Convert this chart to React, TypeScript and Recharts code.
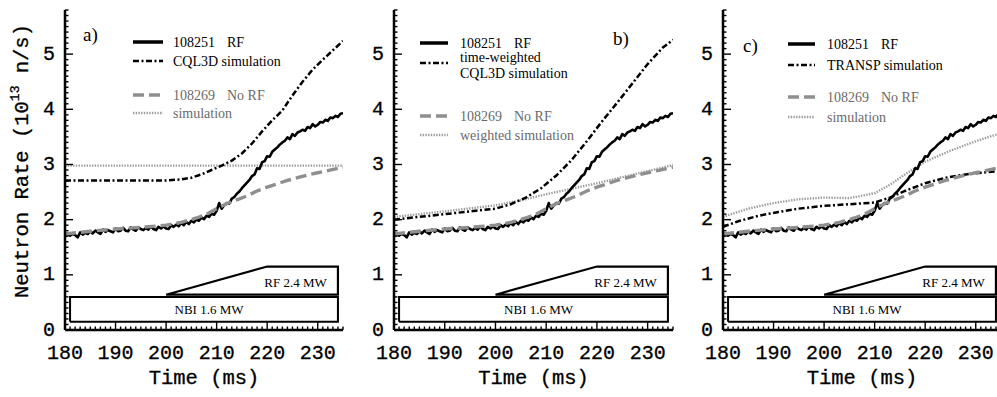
import React from 'react';
import { LineChart, Line, XAxis, YAxis, ReferenceArea, Legend } from 'recharts';

// ---------------- data ----------------
const xMajorTicks = [180, 190, 200, 210, 220, 230];
const yMajorTicks = [0, 1, 2, 3, 4, 5];
const xDomain = [180, 235];
const yDomain = [0, 5.8];

// 108251 RF (measured, noisy)
const rfTime = [
  180, 180.5, 181, 181.5, 182, 182.5, 183, 183.5, 184, 184.5,
  185, 185.5, 186, 186.5, 187, 187.5, 188, 188.5, 189, 189.5,
  190, 190.5, 191, 191.5, 192, 192.5, 193, 193.5, 194, 194.5,
  195, 195.5, 196, 196.5, 197, 197.5, 198, 198.5, 199, 199.5,
  200, 200.5, 201, 201.5, 202, 202.5, 203, 203.5, 204, 204.5,
  205, 205.5, 206, 206.5, 207, 207.5, 208, 208.5, 209, 209.5,
  210, 210.5, 211, 211.5, 212, 212.5, 213, 213.5, 214, 214.5,
  215, 215.5, 216, 216.5, 217, 217.5, 218, 218.5, 219, 219.5,
  220, 220.5, 221, 221.5, 222, 222.5, 223, 223.5, 224, 224.5,
  225, 225.5, 226, 226.5, 227, 227.5, 228, 228.5, 229, 229.5,
  230, 230.5, 231, 231.5, 232, 232.5, 233, 233.5, 234, 234.5,
  235,
];
const rfRate = [
  1.69, 1.75, 1.71, 1.74, 1.72, 1.68, 1.77, 1.73, 1.76, 1.74,
  1.79, 1.75, 1.80, 1.77, 1.74, 1.82, 1.78, 1.81, 1.79, 1.77,
  1.84, 1.79, 1.80, 1.85, 1.80, 1.79, 1.86, 1.82, 1.80, 1.86,
  1.83, 1.81, 1.85, 1.82, 1.88, 1.83, 1.81, 1.87, 1.84, 1.88,
  1.84, 1.83, 1.90, 1.87, 1.91, 1.88, 1.94, 1.90, 1.96, 1.92,
  1.98, 1.95, 2.00, 1.98, 2.04, 2.01, 2.07, 2.05, 2.11, 2.09,
  2.16, 2.30, 2.20, 2.26, 2.30, 2.29, 2.38, 2.41, 2.47, 2.51,
  2.57, 2.62, 2.67, 2.72, 2.79, 2.82, 2.93, 2.92, 3.04, 3.06,
  3.15, 3.14, 3.23, 3.27, 3.31, 3.36, 3.40, 3.43, 3.49, 3.46,
  3.55, 3.52, 3.58, 3.60, 3.63, 3.61, 3.68, 3.66, 3.73, 3.69,
  3.72, 3.77, 3.76, 3.81, 3.79, 3.85, 3.84, 3.88, 3.86, 3.92,
  3.93,
];

// 108269 No RF (measured)
const noRfTime = [180, 185, 190, 195, 200, 203, 206, 208, 210, 212, 214, 216, 218, 220, 222, 224, 226, 228, 230, 232, 234, 235];
const noRfRate = [1.74, 1.79, 1.83, 1.86, 1.9, 1.95, 2.03, 2.1, 2.2, 2.29, 2.36, 2.43, 2.52, 2.59, 2.65, 2.71, 2.76, 2.81, 2.85, 2.89, 2.93, 2.95];

// a) CQL3D simulation / No RF simulation
const cqlTime = [180, 200, 203, 205, 207, 209, 211, 213, 215, 217, 219, 221, 223, 225, 227, 229, 231, 233, 235];
const cqlRate = [2.71, 2.71, 2.73, 2.76, 2.82, 2.9, 2.98, 3.07, 3.2, 3.38, 3.6, 3.8, 3.98, 4.25, 4.5, 4.72, 4.9, 5.07, 5.24];
const simATime = [180, 235];
const simARate = [2.98, 2.98];

// b) time-weighted CQL3D / weighted simulation
const cqlWTime = [180, 190, 200, 203, 206, 209, 212, 215, 218, 221, 224, 227, 230, 233, 235];
const cqlWRate = [2.0, 2.1, 2.2, 2.28, 2.4, 2.57, 2.8, 3.08, 3.42, 3.78, 4.12, 4.47, 4.82, 5.12, 5.26];
const simWTime = [180, 190, 200, 205, 210, 215, 220, 225, 230, 235];
const simWRate = [2.05, 2.15, 2.26, 2.35, 2.46, 2.56, 2.66, 2.77, 2.88, 2.99];

// c) TRANSP simulation / simulation
const transpTime = [180, 183, 187, 191, 195, 200, 205, 210, 213, 216, 220, 224, 228, 232, 235];
const transpRate = [1.87, 1.97, 2.07, 2.14, 2.2, 2.25, 2.28, 2.31, 2.4, 2.52, 2.66, 2.76, 2.82, 2.86, 2.88];
const simTTime = [180, 185, 190, 195, 200, 205, 210, 213, 216, 220, 225, 230, 235];
const simTRate = [2.05, 2.2, 2.3, 2.37, 2.4, 2.39, 2.48, 2.63, 2.82, 3.05, 3.25, 3.42, 3.57];

// heating waveforms (schematic boxes)
const nbiTime = [181, 181, 234, 234, 181];
const nbiLevel = [0.15, 0.6, 0.6, 0.15, 0.15];
const rfPowTime = [200, 220, 234, 234, 200];
const rfPowLevel = [0.64, 1.15, 1.15, 0.64, 0.64];
const nbiLabel = 'NBI 1.6 MW';
const rfLabel = 'RF 2.4 MW';

const panelTags = ['a)', 'b)', 'c)'];
const xTitle = 'Time (ms)';

// ---------------- helpers ----------------
const pts = (ts: number[], vs: number[]) => ts.map((t, i) => ({ t, v: vs[i] }));

const xAllTicks: number[] = [];
for (let t = xDomain[0]; t <= xDomain[1]; t += 1) xAllTicks.push(t);
const yAllTicks: number[] = [];
for (let i = 0; i <= 58; i += 1) yAllTicks.push(Math.round(i) / 10);

const isYMajor = (v: number) => yMajorTicks.some((m) => Math.abs(m - v) < 1e-6);
const isXMajor = (v: number) => xMajorTicks.some((m) => Math.abs(m - v) < 1e-6);

const FONT_AXIS = '"Liberation Mono", "DejaVu Sans Mono", monospace';
const FONT_SERIF = '"Liberation Serif", "DejaVu Serif", serif';
const MAJ = 8;
const MIN = 3.5;
const TW = 1.4;

const BottomTick = (p: any) => {
  const v = p.payload.value;
  const major = isXMajor(v);
  return (
    <g>
      <line x1={p.x} x2={p.x} y1={p.y} y2={p.y - (major ? MAJ : MIN)} stroke="#000" strokeWidth={TW} />
      {major && (
        <text x={p.x} y={p.y + 23} textAnchor="middle" dominantBaseline="central" fontFamily={FONT_AXIS} fontSize={20} fill="#000" stroke="#000" strokeWidth={0.3}>
          {v}
        </text>
      )}
    </g>
  );
};
const TopTick = (p: any) => {
  const major = isXMajor(p.payload.value);
  return <line x1={p.x} x2={p.x} y1={p.y} y2={p.y + (major ? MAJ : MIN)} stroke="#000" strokeWidth={TW} />;
};
const LeftTick = (p: any) => {
  const v = p.payload.value;
  const major = isYMajor(v);
  return (
    <g>
      <line x1={p.x} x2={p.x + (major ? MAJ : MIN)} y1={p.y} y2={p.y} stroke="#000" strokeWidth={TW} />
      {major && (
        <text x={p.x - 10} y={p.y} textAnchor="end" dominantBaseline="central" fontFamily={FONT_AXIS} fontSize={20} fill="#000" stroke="#000" strokeWidth={0.3}>
          {Math.round(v)}
        </text>
      )}
    </g>
  );
};
const RightTick = (p: any) => {
  const major = isYMajor(p.payload.value);
  return <line x1={p.x} x2={p.x - (major ? MAJ : MIN)} y1={p.y} y2={p.y} stroke="#000" strokeWidth={TW} />;
};

type Series = { name: string; time: number[]; rate: number[]; stroke: string; width: number; dash?: string };

const BLACK = '#000';
const GRAY_DASH = '#8f8f8f';
const GRAY_DOT = '#9c9c9c';
const DASHDOT = '6 2.5 2 2.5';
const DASHED = '11 5';
const DOTTED = '1.4 1.3';

const seriesRF: Series = { name: '108251', time: rfTime, rate: rfRate, stroke: BLACK, width: 2.6 };
const seriesNoRF: Series = { name: '108269', time: noRfTime, rate: noRfRate, stroke: GRAY_DASH, width: 3.4, dash: DASHED };

type LegendRow = { y: number; stroke: string; width: number; dash?: string; lines: string[]; lineY: number[]; suffix?: string; suffixDx?: number; color: string };

type PanelCfg = {
  left: number;
  width: number;
  yAxisWidth: number;
  sims: Series[];
  tag: { label: string; x: number; y: number };
  sample: [number, number];
  textX: number;
  rows: LegendRow[];
  yLabel?: boolean;
};

const legendRowsA: LegendRow[] = [
  { y: 42, stroke: BLACK, width: 3.5, lines: ['108251'], lineY: [42], suffix: 'RF', suffixDx: 54, color: '#000' },
  { y: 61, stroke: BLACK, width: 2.6, dash: DASHDOT, lines: ['CQL3D simulation'], lineY: [61], color: '#000' },
  { y: 95, stroke: GRAY_DASH, width: 3.6, dash: DASHED, lines: ['108269'], lineY: [95], suffix: 'No RF', suffixDx: 54, color: '#6a6a6a' },
  { y: 113, stroke: GRAY_DOT, width: 2.4, dash: DOTTED, lines: ['simulation'], lineY: [113], color: '#6a6a6a' },
];
const legendRowsB: LegendRow[] = [
  { y: 43, stroke: BLACK, width: 3.5, lines: ['108251'], lineY: [43], suffix: 'RF', suffixDx: 54, color: '#000' },
  { y: 63, stroke: BLACK, width: 2.6, dash: DASHDOT, lines: ['time-weighted', 'CQL3D simulation'], lineY: [57, 73], color: '#000' },
  { y: 116, stroke: GRAY_DASH, width: 3.6, dash: DASHED, lines: ['108269'], lineY: [116], suffix: 'No RF', suffixDx: 54, color: '#6a6a6a' },
  { y: 135, stroke: GRAY_DOT, width: 2.4, dash: DOTTED, lines: ['weighted simulation'], lineY: [135], color: '#6a6a6a' },
];
const legendRowsC: LegendRow[] = [
  { y: 44, stroke: BLACK, width: 3.5, lines: ['108251'], lineY: [44], suffix: 'RF', suffixDx: 54, color: '#000' },
  { y: 65, stroke: BLACK, width: 2.6, dash: DASHDOT, lines: ['TRANSP simulation'], lineY: [65], color: '#000' },
  { y: 97, stroke: GRAY_DASH, width: 3.6, dash: DASHED, lines: ['108269'], lineY: [97], suffix: 'No RF', suffixDx: 54, color: '#6a6a6a' },
  { y: 117, stroke: GRAY_DOT, width: 2.4, dash: DOTTED, lines: ['simulation'], lineY: [117], color: '#6a6a6a' },
];

const panels: PanelCfg[] = [
  {
    left: 0, width: 348, yAxisWidth: 65, yLabel: true,
    sims: [
      { name: 'sim', time: simATime, rate: simARate, stroke: GRAY_DOT, width: 2.4, dash: DOTTED },
      { name: 'cql', time: cqlTime, rate: cqlRate, stroke: BLACK, width: 2.5, dash: DASHDOT },
    ],
    tag: { label: panelTags[0], x: 83, y: 34 }, sample: [133, 163], textX: 173, rows: legendRowsA,
  },
  {
    left: 345, width: 333, yAxisWidth: 49,
    sims: [
      { name: 'simw', time: simWTime, rate: simWRate, stroke: GRAY_DOT, width: 2.4, dash: DOTTED },
      { name: 'cqlw', time: cqlWTime, rate: cqlWRate, stroke: BLACK, width: 2.5, dash: DASHDOT },
    ],
    tag: { label: panelTags[1], x: 268, y: 38 }, sample: [75, 103], textX: 115, rows: legendRowsB,
  },
  {
    left: 678, width: 328, yAxisWidth: 45,
    sims: [
      { name: 'simt', time: simTTime, rate: simTRate, stroke: GRAY_DOT, width: 2.4, dash: DOTTED },
      { name: 'transp', time: transpTime, rate: transpRate, stroke: BLACK, width: 2.5, dash: DASHDOT },
    ],
    tag: { label: panelTags[2], x: 65, y: 45 }, sample: [110, 137], textX: 149, rows: legendRowsC,
  },
];

const LegendLayer = ({ cfg }: { cfg: PanelCfg }) => (
  <svg width={cfg.width} height={160} style={{ display: 'block', overflow: 'visible' }}>
    <text x={cfg.tag.x} y={cfg.tag.y} dominantBaseline="central" fontFamily={FONT_SERIF} fontSize={19} fill="#000">
      {cfg.tag.label}
    </text>
    {cfg.rows.map((r, i) => (
      <g key={i}>
        <line x1={cfg.sample[0]} x2={cfg.sample[1]} y1={r.y} y2={r.y} stroke={r.stroke} strokeWidth={r.width} strokeDasharray={r.dash} />
        {r.lines.map((ln, j) => (
          <text key={j} x={cfg.textX} y={r.lineY[j]} dominantBaseline="central" fontFamily={FONT_SERIF} fontSize={14} fill={r.color}>
            {ln}
          </text>
        ))}
        {r.suffix && (
          <text x={cfg.textX + (r.suffixDx || 0)} y={r.lineY[0]} dominantBaseline="central" fontFamily={FONT_SERIF} fontSize={14} fill={r.color}>
            {r.suffix}
          </text>
        )}
      </g>
    ))}
  </svg>
);

const YLabel = () => (
  <text x={0} y={0} transform="translate(22,161) rotate(-90)" textAnchor="middle" dominantBaseline="central" fontFamily={FONT_AXIS} fontSize={20.5} fill="#000" stroke="#000" strokeWidth={0.3}>
    <tspan>Neutron Rate (10</tspan>
    <tspan dy={-7} fontSize={13}>13</tspan>
    <tspan dy={7}> n/s)</tspan>
  </text>
);

const XLabel = (p: any) => {
  const vb = p.viewBox || {};
  return (
    <text x={vb.x + vb.width / 2} y={vb.y + 48} textAnchor="middle" dominantBaseline="central" fontFamily={FONT_AXIS} fontSize={20.5} fill="#000" stroke="#000" strokeWidth={0.3}>
      {xTitle}
    </text>
  );
};

const Panel = ({ cfg }: { cfg: PanelCfg }) => {
  return (
    <LineChart width={cfg.width} height={397} margin={{ top: 10, right: 5, bottom: 0, left: 0 }}>
      <XAxis
        xAxisId="b" type="number" dataKey="t" domain={xDomain} allowDataOverflow ticks={xAllTicks} interval={0}
        height={67} tickSize={0} tickMargin={0} tickLine={false} tick={BottomTick}
        axisLine={{ stroke: '#000', strokeWidth: 2.5 }} label={{ value: xTitle, content: XLabel }}
      />
      <XAxis
        xAxisId="t" orientation="top" type="number" dataKey="t" domain={xDomain} allowDataOverflow ticks={xAllTicks} interval={0}
        height={0} tickSize={0} tickMargin={0} tickLine={false} tick={TopTick} axisLine={{ stroke: '#000', strokeWidth: 2.5 }}
      />
      <YAxis
        yAxisId="l" type="number" domain={yDomain} allowDataOverflow ticks={yAllTicks} interval={0}
        width={cfg.yAxisWidth} tickSize={0} tickMargin={0} tickLine={false} tick={LeftTick}
        axisLine={{ stroke: '#000', strokeWidth: 2.5 }}
        label={cfg.yLabel ? { value: 'Neutron Rate', content: YLabel } : undefined}
      />
      <YAxis
        yAxisId="r" orientation="right" type="number" domain={yDomain} allowDataOverflow ticks={yAllTicks} interval={0}
        width={0} tickSize={0} tickMargin={0} tickLine={false} tick={RightTick} axisLine={{ stroke: '#000', strokeWidth: 2.5 }}
      />
      <Line xAxisId="b" yAxisId="l" data={pts(nbiTime, nbiLevel)} dataKey="v" stroke="#000" strokeWidth={2} dot={false} isAnimationActive={false} />
      <Line xAxisId="b" yAxisId="l" data={pts(rfPowTime, rfPowLevel)} dataKey="v" stroke="#000" strokeWidth={2.2} dot={false} isAnimationActive={false} />
      <ReferenceArea xAxisId="b" yAxisId="l" x1={183} x2={234} y1={0.15} y2={0.6} fillOpacity={0} strokeOpacity={0}
        label={{ value: nbiLabel, position: 'center', fontFamily: FONT_SERIF, fontSize: 13, fill: '#000' }} />
      <ReferenceArea xAxisId="b" yAxisId="l" x1={220} x2={231.8} y1={0.64} y2={1.1} fillOpacity={0} strokeOpacity={0}
        label={{ value: rfLabel, position: 'insideRight', offset: 0, fontFamily: FONT_SERIF, fontSize: 13, fill: '#000' }} />
      {cfg.sims.map((s) => (
        <Line key={s.name} xAxisId="b" yAxisId="l" data={pts(s.time, s.rate)} dataKey="v" stroke={s.stroke} strokeWidth={s.width}
          strokeDasharray={s.dash} dot={false} isAnimationActive={false} />
      ))}
      <Line xAxisId="b" yAxisId="l" data={pts(seriesRF.time, seriesRF.rate)} dataKey="v" stroke={seriesRF.stroke} strokeWidth={seriesRF.width}
        dot={false} isAnimationActive={false} strokeLinejoin="round" />
      <Line xAxisId="b" yAxisId="l" data={pts(seriesNoRF.time, seriesNoRF.rate)} dataKey="v" stroke={seriesNoRF.stroke} strokeWidth={seriesNoRF.width}
        strokeDasharray={seriesNoRF.dash} dot={false} isAnimationActive={false} />
      <Legend layout="vertical" align="center" verticalAlign="middle"
        wrapperStyle={{ left: 0, top: 0, width: cfg.width, height: 160, pointerEvents: 'none' }}
        content={() => <LegendLayer cfg={cfg} />} />
    </LineChart>
  );
};

export default function App() {
  return (
    <div style={{ position: 'fixed', left: 0, top: 0, width: 997, height: 397, overflow: 'hidden', background: '#fff' }}>
      {panels.map((cfg, i) => (
        <div key={i} style={{ position: 'absolute', left: cfg.left, top: 0 }}>
          <Panel cfg={cfg} />
        </div>
      ))}
    </div>
  );
}
